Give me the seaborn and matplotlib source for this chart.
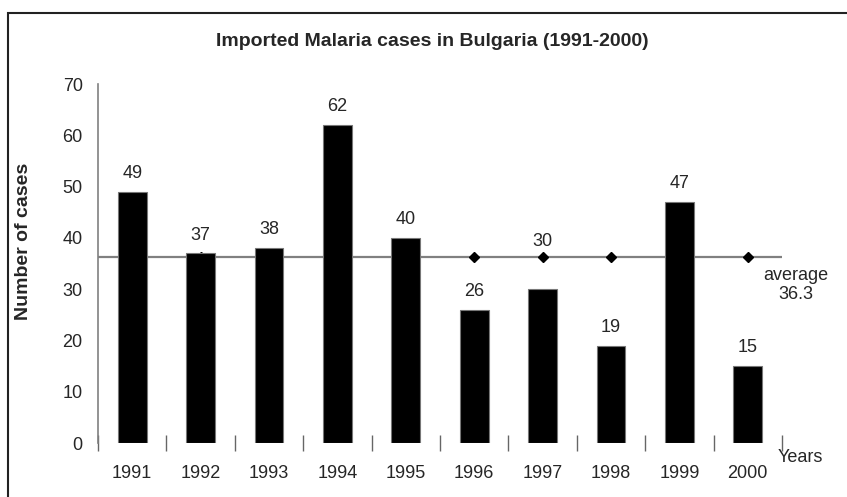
import numpy as np
import matplotlib
matplotlib.use("Agg")
import matplotlib.pyplot as plt
import matplotlib.transforms as mtransforms
from matplotlib.patches import Rectangle
import seaborn as sns

# data
years = ["1991", "1992", "1993", "1994", "1995", "1996", "1997", "1998", "1999", "2000"]
cases = [49, 37, 38, 62, 40, 26, 30, 19, 47, 15]
y_ticks = [0, 10, 20, 30, 40, 50, 60, 70]

average = round(sum(cases) / len(cases), 1)

sns.set_style("white")
plt.rcParams["font.family"] = ["Liberation Sans", "DejaVu Sans"]

fig = plt.figure(figsize=(8.47, 4.97), dpi=100)
ax = fig.add_axes([98 / 847, 1 - 443 / 497, (782 - 98) / 847, (443 - 84) / 497])

# average line with diamond markers, drawn behind the bars
pos = np.arange(len(years))
ax.axhline(average, color="#808080", lw=1.6, zorder=1)
ax.plot(pos, [average] * len(years), linestyle="none", marker="D",
        color="black", markersize=5.5, zorder=1.5)

sns.barplot(x=years, y=cases, color="black", saturation=1, width=0.42,
            edgecolor="#777777", linewidth=0.8, ax=ax, zorder=2)

# value labels; the 1997 one sits above the average line in the original
for bar, yr, v in zip(ax.patches, years, cases):
    pad = 28 if yr == "1997" else 7
    ax.annotate(str(v), xy=(bar.get_x() + bar.get_width() / 2, bar.get_height()),
                xytext=(0, pad), textcoords="offset points",
                ha="center", va="bottom", fontsize=13)

ax.set_xlim(-0.5, len(years) - 0.5)
ax.set_ylim(0, 70)
ax.set_yticks(y_ticks)
ax.tick_params(axis="y", length=0, pad=11, labelsize=13)
ax.tick_params(axis="x", which="major", length=0, pad=16, labelsize=13)
ax.set_xticks(np.arange(len(years) + 1) - 0.5, minor=True)
ax.tick_params(axis="x", which="minor", bottom=True, direction="inout",
               length=12, width=1, color="#666666")

for s in ["top", "right", "bottom"]:
    ax.spines[s].set_visible(False)
ax.spines["left"].set_color("#808080")
ax.spines["left"].set_linewidth(1.2)

ax.set_xlabel("")
ax.set_ylabel("")

# average annotation at the right end of the line
trans = mtransforms.blended_transform_factory(ax.transAxes, ax.transData)
ax.annotate("average\n" + str(average), xy=(1.02, average),
            xycoords=trans, xytext=(0, -20.5), textcoords="offset points",
            ha="center", va="center", fontsize=13, linespacing=1.15,
            annotation_clip=False)

fig.text(778 / 847, 1 - 458 / 497, "Years", fontsize=13, ha="left", va="center")
fig.text(432 / 847, 1 - 41 / 497, "Imported Malaria cases in Bulgaria (1991-2000)",
         ha="center", va="center", fontsize=14, fontweight="bold")
fig.text(24 / 847, 1 - 241 / 497, "Number of cases", rotation=90,
         ha="center", va="center", fontsize=14, fontweight="bold")

# chart border (only top and left edges lie inside the image)
fig.add_artist(Rectangle((8 / 847, -0.5), 2, 0.5 + 1 - 13 / 497,
                         transform=fig.transFigure, fill=False,
                         edgecolor="#222222", lw=1.5))

fig.savefig("out.png", dpi=100)
